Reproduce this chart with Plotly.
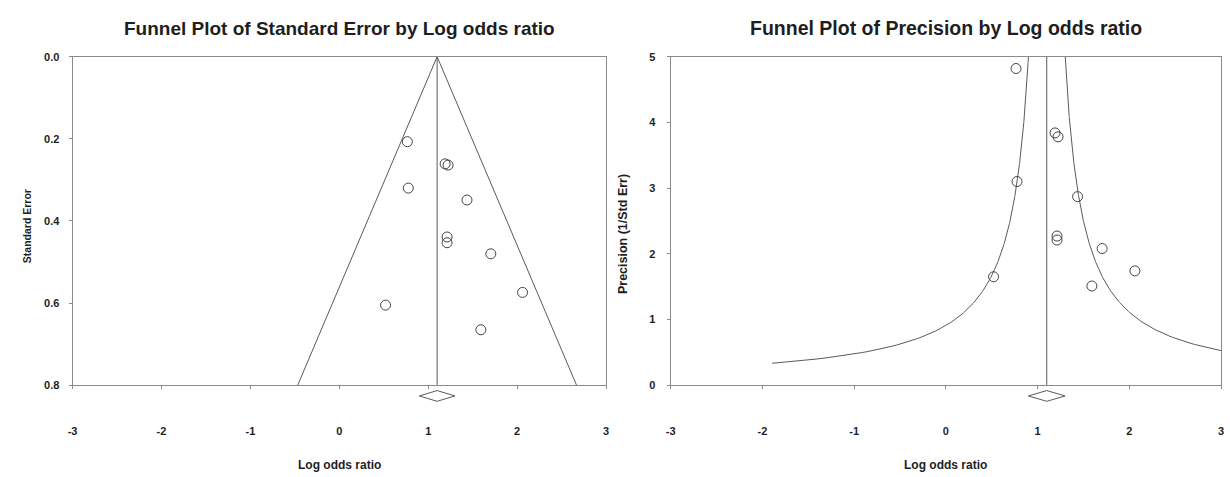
import numpy as np
import plotly.graph_objects as go

# ---- data ----
log_odds = [0.765, 1.19, 1.223, 0.776, 1.436, 1.212, 1.212, 1.704, 2.061, 0.52, 1.592]
std_err = [0.207, 0.261, 0.264, 0.320, 0.349, 0.439, 0.453, 0.480, 0.574, 0.605, 0.665]
precision = [4.82, 3.84, 3.78, 3.10, 2.87, 2.27, 2.21, 2.08, 1.74, 1.65, 1.51]
pooled_lor = 1.10
pooled_ci = [0.90, 1.30]
x_ticks = [-3, -2, -1, 0, 1, 2, 3]
x_tick_text = ["-3", "-2", "-1", "0", "1", "2", "3"]
se_ticks = [0.0, 0.2, 0.4, 0.6, 0.8]
prec_ticks = [0, 1, 2, 3, 4, 5]

LINE = "#5a5a5a"
AXIS = "#8a8a8a"
TXT = "#1e1e1e"
FONT = "Liberation Sans, Arial, sans-serif"

fig = go.Figure()

# ---- left: SE funnel ----
se_max = 0.8
fig.add_trace(go.Scatter(
    x=[pooled_lor - 1.96 * se_max, pooled_lor, pooled_lor + 1.96 * se_max],
    y=[se_max, 0, se_max], mode="lines",
    line=dict(color=LINE, width=1), xaxis="x", yaxis="y", hoverinfo="skip"))
fig.add_trace(go.Scatter(
    x=[pooled_lor, pooled_lor], y=[0, se_max], mode="lines",
    line=dict(color=LINE, width=1), xaxis="x", yaxis="y", hoverinfo="skip"))
fig.add_trace(go.Scatter(
    x=log_odds, y=std_err, mode="markers",
    marker=dict(symbol="circle-open", size=10, color="#444", line=dict(width=1)),
    xaxis="x", yaxis="y"))

# ---- right: precision funnel ----
p_left = np.linspace(0.334, 5.2, 300)
p_right = np.linspace(1 / (3 - pooled_lor), 5.2, 300)
fig.add_trace(go.Scatter(
    x=pooled_lor - 1 / p_left, y=p_left, mode="lines",
    line=dict(color=LINE, width=1), xaxis="x2", yaxis="y2", hoverinfo="skip"))
fig.add_trace(go.Scatter(
    x=pooled_lor + 1 / p_right, y=p_right, mode="lines",
    line=dict(color=LINE, width=1), xaxis="x2", yaxis="y2", hoverinfo="skip"))
fig.add_trace(go.Scatter(
    x=[pooled_lor, pooled_lor], y=[0, 5], mode="lines",
    line=dict(color=LINE, width=1), xaxis="x2", yaxis="y2", hoverinfo="skip"))
fig.add_trace(go.Scatter(
    x=log_odds, y=precision, mode="markers",
    marker=dict(symbol="circle-open", size=10, color="#444", line=dict(width=1)),
    xaxis="x2", yaxis="y2"))

W, H = 1230, 477
top_px, bot_px = 52, 389
ydom = [1 - bot_px / H, 1 - top_px / H]
plot_h = bot_px - top_px

# pooled-estimate diamonds below each x axis
for xr, yr in (("x", "y domain"), ("x2", "y2 domain")):
    c = -11 / plot_h
    hh = 5.5 / plot_h
    lo, hi = pooled_ci
    fig.add_shape(type="path", xref=xr, yref=yr,
                  path=f"M {lo},{c} L {pooled_lor},{c + hh} L {hi},{c} L {pooled_lor},{c - hh} Z",
                  line=dict(color=LINE, width=1), fillcolor="white", layer="above")

axis_common = dict(showgrid=False, zeroline=False, showline=True, mirror=True,
                   linecolor=AXIS, linewidth=1, ticks="outside", ticklen=3,
                   tickcolor=AXIS,
                   tickfont=dict(family=FONT, size=11, color=TXT, weight="bold"))

fig.update_layout(
    width=W, height=H, margin=dict(l=0, r=0, t=0, b=0),
    paper_bgcolor="white", plot_bgcolor="white", showlegend=False,
    xaxis=dict(domain=[68 / W, 605 / W], range=[-3, 3], tickvals=x_ticks,
               ticktext=x_tick_text, ticklabelstandoff=33, anchor="y", **axis_common),
    yaxis=dict(domain=ydom, range=[0.8, 0.0], tickvals=se_ticks, tickformat=".1f",
               ticklabelstandoff=7, anchor="x", **axis_common),
    xaxis2=dict(domain=[670 / W, 1224 / W], range=[-3, 3], tickvals=x_ticks,
                ticktext=x_tick_text, ticklabelstandoff=33, anchor="y2", **axis_common),
    yaxis2=dict(domain=ydom, range=[0, 5], tickvals=prec_ticks,
                ticklabelstandoff=9, anchor="x2", **axis_common),
)

def label(text, x, y, size, angle=0):
    fig.add_annotation(text=text, x=x / W, y=1 - y / H, xref="paper", yref="paper",
                       showarrow=False, textangle=angle,
                       font=dict(family=FONT, size=size, color=TXT, weight="bold"),
                       xanchor="center", yanchor="middle")

label("Funnel Plot of Standard Error by Log odds ratio", (68 + 605) / 2, 23, 19)
label("Funnel Plot of Precision by Log odds ratio", (670 + 1224) / 2, 23, 19.5)
label("Log odds ratio", (68 + 605) / 2, 471, 12)
label("Log odds ratio", (670 + 1224) / 2, 471, 12)
label("Standard Error", 22, 226, 10.5, -90)
label("Precision (1/Std Err)", 622, 234, 12.5, -90)

fig.write_html("out.html")
